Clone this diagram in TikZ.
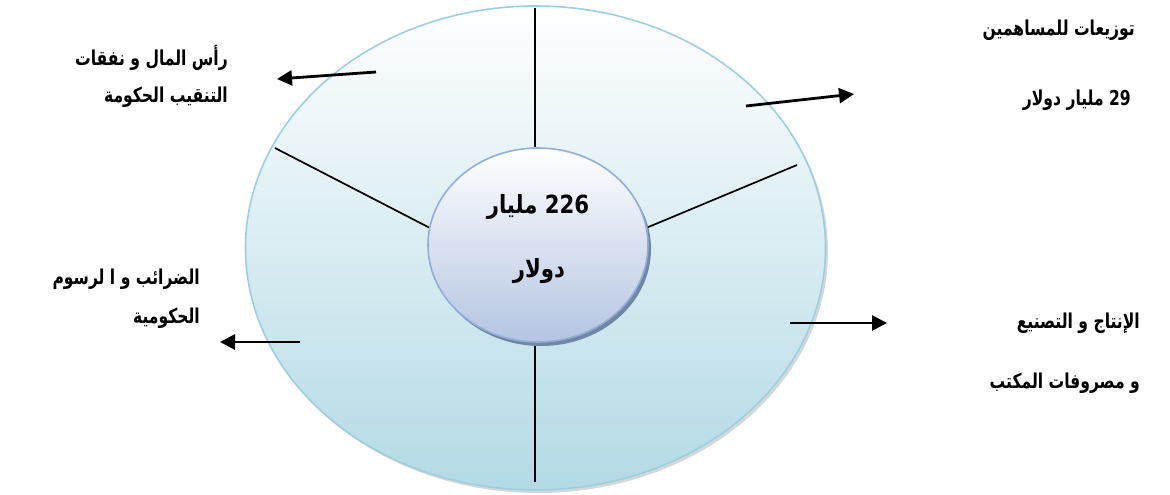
\documentclass[tikz,border=0pt]{standalone}
\usepackage{fontspec}
\usetikzlibrary{arrows.meta}
\TeXXeTstate=1
\newfontfamily\arabicfont[Script=Arabic,FakeStretch=0.76]{DejaVu Sans}
\newfontfamily\hubfont[Script=Arabic,FakeStretch=0.85]{DejaVu Sans}
\definecolor{ringtop}{HTML}{FFFFFF}
\definecolor{ringmid}{HTML}{E2F1F5}
\definecolor{ringbot}{HTML}{B3DAE5}
\definecolor{ringedge}{HTML}{9CD0DE}
\definecolor{hubtop}{HTML}{FFFFFF}
\definecolor{hubbot}{HTML}{B4C5E2}
\definecolor{hubedge}{HTML}{92AED8}
\definecolor{hubshadow}{HTML}{6F87A3}
\tikzset{
  lbl/.style={font=\arabicfont\bfseries\fontsize{20.5}{24}\selectfont, inner sep=0pt, anchor=east},
  ctr/.style={font=\hubfont\bfseries\fontsize{25}{28}\selectfont, inner sep=0pt},
  spoke/.style={draw=black, line width=1.7pt},
  flow/.style={draw=black, line width=2.8pt, -{Triangle[length=15pt,width=15pt]}}
}
\begin{document}
\begin{tikzpicture}[x=1pt,y=-1pt]
  \useasboundingbox (0,0) rectangle (1170,495);
  % outer ring with a soft shadow
  \fill[black!35, opacity=0.45] (538,251) ellipse [x radius=290, y radius=242];
  \path[draw=ringedge, line width=1.6pt, top color=ringtop, middle color=ringmid, bottom color=ringbot]
    (535.5,248) ellipse [x radius=290, y radius=242];
  % spokes
  \coordinate (t1) at (535,8);   \coordinate (t2) at (535,147);
  \coordinate (b1) at (535,343); \coordinate (b2) at (535,482);
  \coordinate (l1) at (275,148); \coordinate (l2) at (430,228);
  \coordinate (r1) at (797,165); \coordinate (r2) at (646,228);
  \draw[spoke] (t1) -- (t2);
  \draw[spoke] (b1) -- (b2);
  \draw[spoke] (l1) -- (l2);
  \draw[spoke] (r1) -- (r2);
  % central hub
  \fill[hubshadow] (541,249) ellipse [x radius=110, y radius=97];
  \path[draw=hubedge, line width=1.6pt, top color=hubtop, bottom color=hubbot]
    (538,245) ellipse [x radius=110, y radius=97];
  \node[ctr] (hubA) at (538,207) {\beginR\beginL 226\endL{} مليار\endR};
  \node[ctr] (hubB) at (539,271) {\beginR دولار\endR};
  % labels
  \node[lbl] (capA) at (228,58) {\beginR رأس المال و نفقات\endR};
  \node[lbl] (capB) at (228,97) {\beginR التنقيب الحكومة\endR};
  \node[lbl] (divA) at (1135,30) {\beginR توزيعات للمساهمين\endR};
  \node[lbl] (divB) at (1131,100) {\beginR\beginL 29\endL{} مليار دولار\endR};
  \node[lbl] (taxA) at (200,279) {\beginR الضرائب و ا لرسوم\endR};
  \node[lbl] (taxB) at (200,318) {\beginR الحكومية\endR};
  \node[lbl] (prdA) at (1140,323) {\beginR الإنتاج و التصنيع\endR};
  \node[lbl] (prdB) at (1140,383) {\beginR و مصروفات المكتب\endR};
  % flow arrows
  \coordinate (a1) at (376,72);  \coordinate (a2) at (277,79);
  \coordinate (c1) at (746,106); \coordinate (c2) at (854,94);
  \coordinate (d1) at (300,342); \coordinate (d2) at (220,342);
  \coordinate (e1) at (790,323); \coordinate (e2) at (887,323);
  \draw[flow] (a1) -- (a2);
  \draw[flow] (c1) -- (c2);
  \draw[flow] (d1) -- (d2);
  \draw[flow] (e1) -- (e2);
\end{tikzpicture}
\end{document}
